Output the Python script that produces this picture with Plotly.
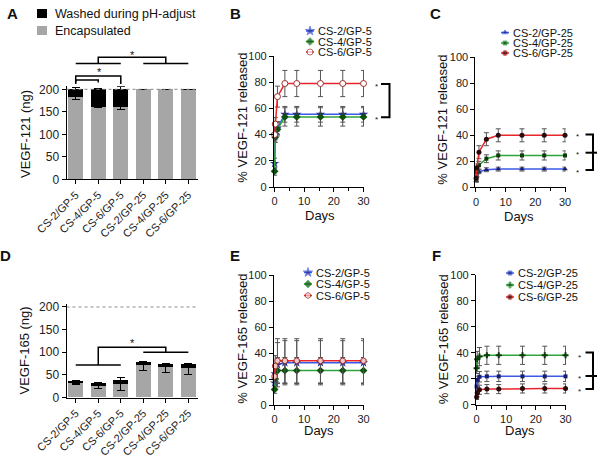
import plotly.graph_objects as go

FONT = "Liberation Sans, Arial, sans-serif"
W, H = 600, 458

groups = ["CS-2/GP-5", "CS-4/GP-5", "CS-6/GP-5", "CS-2/GP-25", "CS-4/GP-25", "CS-6/GP-25"]

# A: VEGF-121 (ng), stacked
a_encap = [183, 161, 161, 200, 200, 199]
a_encap_err = [5, 2, 5, None, None, None]
a_washed = [17, 39, 39, 0, 0, 1]
a_washed_err = [3.5, 1, 6, None, None, 0]

# D: VEGF-165 (ng), stacked
d_encap = [32, 26, 30, 72, 68, 66]
d_encap_err = [3, 6, 15, 12, 12, 15]
d_washed = [5, 6, 8, 6, 6, 8]
d_washed_err = [1, 1, 7, 1, 1, 1]

days = [0.04, 0.25, 1, 3.5, 7.5, 15.5, 23, 30]
gp5 = ["CS-2/GP-5", "CS-4/GP-5", "CS-6/GP-5"]
gp25 = ["CS-2/GP-25", "CS-4/GP-25", "CS-6/GP-25"]

# B: % VEGF-121 released, GP-5
b_cs2 = [18, 40, 45, 55.5, 55.5, 55.5, 55.5, 55.5]
b_cs2_err = [4, 4, 5, 6, 6, 6, 6, 6]
b_cs4 = [12, 38, 44, 53.5, 53.5, 53.5, 53.5, 53.5]
b_cs4_err = [3, 4, 5, 7, 7, 7, 7, 7]
b_cs6 = [40, 48, 69, 79, 79, 79, 79, 79]
b_cs6_err = [5, 5, 8, 10, 10, 10, 10, 10]

# C: % VEGF-121 released, GP-25
c_cs2 = [5, 9, 12, 13.5, 14, 14, 14, 14]
c_cs2_err = [1, 1.5, 1.5, 1.5, 1.5, 1.5, 1.5, 1.5]
c_cs4 = [6, 12, 17, 22, 24.5, 24.5, 24.5, 24.5]
c_cs4_err = [2, 2, 3, 3, 3.5, 3.5, 3.5, 3.5]
c_cs6 = [7, 15, 27, 37, 40, 40, 40, 40]
c_cs6_err = [2, 3, 5, 5, 5, 5, 5, 5]

# E: % VEGF-165 released, GP-5
e_cs2 = [17, 24, 31, 32.5, 32.5, 32.5, 32.5, 32.5]
e_cs2_err = [4, 8, 17, 17, 17, 17, 17, 17]
e_cs4 = [12, 20, 26.5, 26.5, 26.5, 26.5, 26.5, 26.5]
e_cs4_err = [3, 5, 10, 10, 10, 10, 10, 10]
e_cs6 = [22, 30, 34, 34, 34, 34, 34, 34]
e_cs6_err = [5, 8, 17, 17, 17, 17, 17, 17]

# F: % VEGF-165 released, GP-25
f_cs2 = [14, 19, 21.5, 21.8, 21.8, 21.8, 21.8, 21.8]
f_cs2_err = [3, 3, 4, 4, 4, 4, 4, 4]
f_cs4 = [28, 35, 37, 38, 38, 38, 38, 38]
f_cs4_err = [4, 6, 7, 7, 7, 7, 7, 7]
f_cs6 = [6, 9, 11.5, 12, 12, 12.5, 12.5, 12.5]
f_cs6_err = [2, 3, 3.5, 3.5, 3.5, 3.5, 3.5, 3.5]

BLUE, GREEN, RED = "#3b5be6", "#2ea53a", "#e8262b"
GRAY = "#a6a6a6"


def P(x):
    return x / W


def Q(y):
    return 1 - y / H


fig = go.Figure()

# bar panels
bar_rng = [-0.41, 5.43]
for enc, enc_err, wash, wash_err, xa, ya in [
    (a_encap, a_encap_err, a_washed, a_washed_err, "x", "y"),
    (d_encap, d_encap_err, d_washed, d_washed_err, "x4", "y4"),
]:
    fig.add_trace(go.Bar(x=list(range(6)), y=enc, marker=dict(color=GRAY, line_width=0),
                         error_y=dict(type="data", symmetric=False, array=[0 if e is not None else None for e in enc_err],
                                      arrayminus=enc_err, color="black", thickness=1, width=4),
                         xaxis=xa, yaxis=ya, showlegend=False))
    fig.add_trace(go.Bar(x=list(range(6)), y=wash, marker=dict(color="black", line_width=0),
                         error_y=dict(type="data", symmetric=False, array=wash_err,
                                      arrayminus=[0 if e is not None else None for e in wash_err],
                                      color="black", thickness=1, width=4),
                         xaxis=xa, yaxis=ya, showlegend=False))

# line panels
styles_b = [dict(symbol="star", size=7, color="#2b2b8a"),
            dict(symbol="diamond", size=6, color="#0f4f0f"),
            dict(symbol="circle", size=6, color="white", line=dict(color="#9a3030", width=1))]
styles_c = [dict(symbol="triangle-up", size=5, color="#1c1c6e"),
            dict(symbol="square", size=4, color="#0a3a0a"),
            dict(symbol="circle", size=5, color="#2a0a0a")]
styles_e = [dict(symbol="star", size=7, color="#2b2b8a"),
            dict(symbol="diamond", size=6, color="#0f4f0f"),
            dict(symbol="hexagon", size=6, color="#f0c8c8", line=dict(color="#9a3030", width=1))]
styles_f = [dict(symbol="square", size=4, color="#1c1c6e"),
            dict(symbol="cross", size=5, color="#0a3a0a"),
            dict(symbol="circle", size=5, color="#2a0a0a")]

panels = [
    ("x2", "y2", gp5, [(b_cs2, b_cs2_err), (b_cs4, b_cs4_err), (b_cs6, b_cs6_err)], styles_b),
    ("x3", "y3", gp25, [(c_cs2, c_cs2_err), (c_cs4, c_cs4_err), (c_cs6, c_cs6_err)], styles_c),
    ("x5", "y5", gp5, [(e_cs2, e_cs2_err), (e_cs4, e_cs4_err), (e_cs6, e_cs6_err)], styles_e),
    ("x6", "y6", gp25, [(f_cs2, f_cs2_err), (f_cs4, f_cs4_err), (f_cs6, f_cs6_err)], styles_f),
]
for xa, ya, names, series, styles in panels:
    for (vals, err), name, col, st in zip(series, names, [BLUE, GREEN, RED], styles):
        fig.add_trace(go.Scatter(x=days, y=vals, mode="lines+markers", name=name,
                                 line=dict(color=col, width=1.5), marker=st,
                                 error_y=dict(type="data", array=err, color="#555555", thickness=1, width=2.5),
                                 xaxis=xa, yaxis=ya, showlegend=False, cliponaxis=False))

# hand-made legends on a full-page pixel overlay
legend_pos = {
    "x2": (310, [31, 41.5, 52]),
    "x3": (505, [32.5, 43, 53]),
    "x5": (308, [272.5, 284, 295.5]),
    "x6": (510, [273, 285, 297]),
}
annotations = []


def note(x, y, text, size=11, bold=False, xanchor="center", angle=0, color="#111"):
    annotations.append(dict(xref="x7", yref="y7", x=x, y=y, text=f"<b>{text}</b>" if bold else text,
                            showarrow=False, xanchor=xanchor, yanchor="middle", textangle=angle,
                            font=dict(family=FONT, size=size, color=color)))


for xa, ya, names, series, styles in panels:
    mx, rows = legend_pos[xa]
    for name, col, st, ry in zip(names, [BLUE, GREEN, RED], styles, rows):
        fig.add_trace(go.Scatter(x=[mx - 4, mx, mx + 4], y=[ry, ry, ry], mode="lines+markers",
                                 line=dict(color=col, width=1.5),
                                 marker=dict(st, size=[0, st["size"], 0]),
                                 xaxis="x7", yaxis="y7", showlegend=False, hoverinfo="skip"))
        note(mx + 6, ry, name, size=11, xanchor="left")

shapes = []


def path(d, width=1.5, xref="x7", yref="y7"):
    shapes.append(dict(type="path", path=d, xref=xref, yref=yref, line=dict(color="black", width=width)))


# bar positions on panel A in pixels
ax0, ax1 = 66.5, 198


def bx(i):
    return ax0 + (i - bar_rng[0]) / (bar_rng[1] - bar_rng[0]) * (ax1 - ax0)


# panel A significance brackets
path(f"M{bx(0)},63.5 L{bx(2)},63.5")
path(f"M{bx(3)},63.5 L{bx(5)},63.5")
path(f"M{bx(1)},63.5 L{bx(1)},57.3 L{bx(4)},57.3 L{bx(4)},63.5")
path(f"M{bx(0)},84 L{bx(0)},76 L{bx(2)},76 L{bx(2)},84")
path(f"M{bx(0)},82.5 L{bx(0)},80 L{bx(1)},80 L{bx(1)},82.5")
note(bx(2.5), 55, "*", size=11)
note(bx(1.05), 72, "*", size=11)

# panel D significance brackets (data coords)
path("M0,71.8 L2,71.8", xref="x4", yref="y4")
path("M3,100 L5,100", xref="x4", yref="y4")
path("M1,71.8 L1,111 L4,111 L4,100", xref="x4", yref="y4")
note(bx(2.5), 343, "*", size=11)

# B/C/F brackets
path("M381,84 L389.5,84 L389.5,117.3 L381,117.3", width=2)
note(376.7, 86, "*", size=8)
note(376.7, 119.5, "*", size=8)
path("M585.5,134.5 L593,134.5 L593,170 L585.5,170", width=2)
path("M585.5,152.7 L597,152.7", width=2)
for yy in [134.5, 152.7, 170]:
    note(577.3, yy + 2, "*", size=8)
path("M585.5,352.5 L593,352.5 L593,389 L585.5,389", width=2)
path("M585.5,376 L597,376", width=2)
for yy in [355.3, 376, 389]:
    note(579.3, yy + 2, "*", size=8)

# reference lines at 200 ng
for xr, yr in [("x", "y"), ("x4", "y4")]:
    shapes.append(dict(type="line", xref=xr, yref=yr, x0=bar_rng[0], x1=bar_rng[1], y0=200, y1=200,
                       line=dict(color="#888888", width=1, dash="dot")))

# panel A legend
shapes.append(dict(type="rect", xref="x7", yref="y7", x0=37, x1=47, y0=9, y1=18, fillcolor="black", line_width=0))
shapes.append(dict(type="rect", xref="x7", yref="y7", x0=37, x1=47, y0=26, y1=35, fillcolor=GRAY, line_width=0))
note(53, 13.5, "Washed during pH-adjust", size=12.5, xanchor="left")
note(53, 30.5, "Encapsulated", size=12.5, xanchor="left")

# panel letters
for lt, x, y in [("A", 12, 13), ("B", 235, 13), ("C", 435, 13), ("D", 5, 255.5), ("E", 235, 255.5), ("F", 436, 255.5)]:
    note(x, y, lt, size=15, bold=True)

# axis titles
note(25, 134, "VEGF-121 (ng)", size=13, angle=-90)
note(23.5, 351, "VEGF-165 (ng)", size=13, angle=-90)
note(241.7, 118, "% VEGF-121 released", size=13, angle=-90)
note(441.7, 120, "% VEGF-121 released", size=13, angle=-90)
note(241.7, 339, "% VEGF-165 released", size=13, angle=-90)
note(443.3, 339, "% VEGF-165 released", size=13, angle=-90)
note(320, 215, "Days", size=13)
note(519, 216.5, "Days", size=13)
note(319, 430.5, "Days", size=13)
note(520, 430.5, "Days", size=13)


def axis(**kw):
    d = dict(showline=True, linecolor="black", linewidth=1, ticks="outside", ticklen=4, tickwidth=1,
             tickcolor="black", showgrid=False, zeroline=False, automargin=False,
             tickfont=dict(family=FONT, size=11, color="#222"))
    d.update(kw)
    return d


bar_x = dict(range=bar_rng, tickvals=list(range(6)), ticktext=groups, tickangle=-45)
bar_y = dict(range=[0, 207], tickvals=[0, 50, 100, 150, 200], tickfont=dict(family=FONT, size=12, color="#222"))
day_x = dict(range=[-0.2, 30.2], tickvals=[0, 10, 20, 30],
             minor=dict(ticks="outside", ticklen=3, tickvals=[5, 15, 25], tickcolor="black"))
pct_y = dict(range=[0, 100], tickvals=[0, 20, 40, 60, 80, 100])

fig.update_layout(
    template="none",
    width=W, height=H, margin=dict(l=0, r=0, t=0, b=0, autoexpand=False),
    paper_bgcolor="white", plot_bgcolor="rgba(0,0,0,0)",
    barmode="stack", bargap=0.33, showlegend=False,
    font=dict(family=FONT, color="#222"),
    xaxis=axis(domain=[P(66.5), P(198)], anchor="y", **bar_x),
    yaxis=axis(domain=[Q(179.3), Q(86.15)], anchor="x", **bar_y),
    xaxis4=axis(domain=[P(66.5), P(198)], anchor="y4", **bar_x),
    yaxis4=axis(domain=[Q(397.5), Q(303.8)], anchor="x4", **bar_y),
    xaxis2=axis(domain=[P(273.9), P(364.1)], anchor="y2", **day_x),
    yaxis2=axis(domain=[Q(187), Q(56)], anchor="x2", **pct_y),
    xaxis3=axis(domain=[P(475.4), P(565.6)], anchor="y3", **day_x),
    yaxis3=axis(domain=[Q(187.3), Q(57.3)], anchor="x3", **pct_y),
    xaxis5=axis(domain=[P(273.9), P(364.1)], anchor="y5", **day_x),
    yaxis5=axis(domain=[Q(405), Q(275)], anchor="x5", **pct_y),
    xaxis6=axis(domain=[P(475.9), P(566.1)], anchor="y6", **day_x),
    yaxis6=axis(domain=[Q(404.7), Q(274.7)], anchor="x6", **pct_y),
    xaxis7=dict(domain=[0, 1], range=[0, W], visible=False, anchor="y7", fixedrange=True, automargin=False),
    yaxis7=dict(domain=[0, 1], range=[H, 0], visible=False, anchor="x7", fixedrange=True, automargin=False),
    shapes=shapes, annotations=annotations,
)

# drop the browser's default 8px body margin so the 600x458 figure fills the window
fig.write_html("out.html", config={"displayModeBar": False},
               post_script="document.body.style.margin='0';")
